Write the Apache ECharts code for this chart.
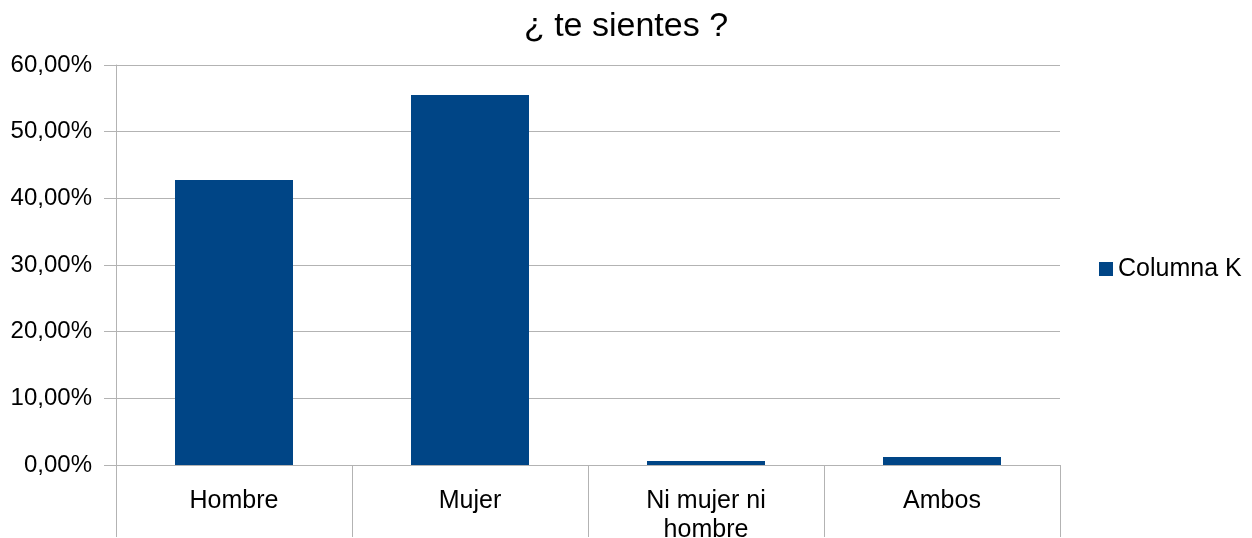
<!DOCTYPE html>
<html>
<head>
<meta charset="utf-8">
<title>¿ te sientes ?</title>
<script src="https://cdn.jsdelivr.net/npm/echarts@6/dist/echarts.min.js"></script>
<style>
  html, body { margin: 0; padding: 0; background: #fff; }
  #chart { width: 1252px; height: 538px; }
</style>
</head>
<body>
<div id="chart"></div>
<script>
// datos del gráfico
const categories = ['Hombre', 'Mujer', 'Ni mujer ni\nhombre', 'Ambos']
const columnaK = [42.75, 55.5, 0.6, 1.2]
const seriesName = 'Columna K'

const chart = echarts.init(document.getElementById('chart'))

const option = {
  animation: false,
  textStyle: { fontFamily: 'Liberation Sans, Arial, sans-serif' },
  title: {
    text: '¿ te sientes ?',
    left: 'center',
    top: 5,
    textStyle: { fontSize: 34, fontWeight: 'normal', color: '#000', fontFamily: 'Liberation Sans' }
  },
  legend: {
    data: [seriesName],
    orient: 'vertical',
    left: 1094,
    top: 'middle',
    icon: 'rect',
    itemWidth: 14,
    itemHeight: 14,
    textStyle: { fontSize: 25, color: '#000', fontFamily: 'Liberation Sans' }
  },
  grid: {
    left: 116,
    right: 192,
    top: 65,
    bottom: 73,
    containLabel: false,
    outerBoundsMode: 'none'
  },
  xAxis: {
    type: 'category',
    data: categories,
    axisLine: { lineStyle: { color: '#b3b3b3' } },
    axisTick: { show: true, interval: 0, length: 72, lineStyle: { color: '#b3b3b3' } },
    axisLabel: {
      interval: 0,
      margin: 22,
      fontSize: 25,
      lineHeight: 29,
      color: '#000',
      fontFamily: 'Liberation Sans'
    }
  },
  yAxis: {
    type: 'value',
    min: 0,
    max: 60,
    interval: 10,
    axisLine: { show: true, lineStyle: { color: '#b3b3b3' } },
    axisTick: { show: true, length: 12, lineStyle: { color: '#b3b3b3' } },
    splitLine: { show: true, lineStyle: { color: '#b3b3b3' } },
    axisLabel: {
      margin: 24,
      fontSize: 24,
      color: '#000',
      fontFamily: 'Liberation Sans',
      formatter: (v) => v.toFixed(2).replace('.', ',') + '%'
    }
  },
  series: [
    {
      name: seriesName,
      type: 'bar',
      data: columnaK,
      barWidth: '50%',
      itemStyle: { color: '#004586' }
    }
  ]
}

chart.setOption(option)
</script>
</body>
</html>
